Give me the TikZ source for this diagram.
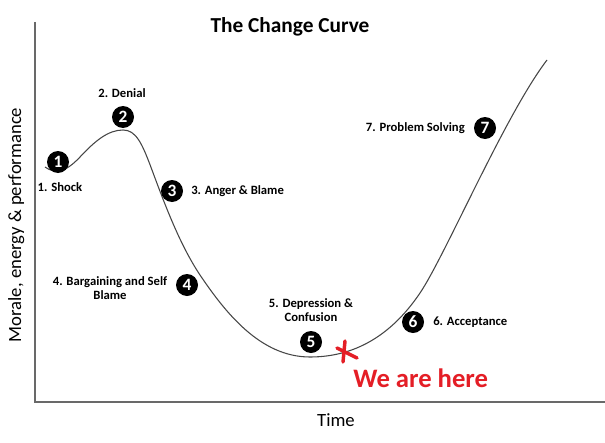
\documentclass[tikz,border=0pt]{standalone}
\usepackage{fontspec}
\setmainfont{Carlito}
\definecolor{herered}{RGB}{228,30,38}
\definecolor{axisgray}{RGB}{105,105,105}
\definecolor{curvegray}{RGB}{70,70,70}

\begin{document}
\begin{tikzpicture}[x=.75pt,y=-.75pt,
  stage/.style={circle,fill=black,text=white,inner sep=0pt,minimum size=16.5pt,font=\bfseries\fontsize{13}{13}\selectfont},
  stagelabel/.style={inner sep=0pt,font=\bfseries\fontsize{9.5}{10.5}\selectfont,align=center},
  axislabel/.style={inner sep=0pt,font=\fontsize{14}{16}\selectfont}]
\path[use as bounding box] (0,0) rectangle (605,442);

% title and axes
\node[anchor=base,inner sep=0pt,font=\bfseries\fontsize{16}{19}\selectfont] (title) at (290,33) {The Change Curve};
\draw[axisgray,line width=1.1pt] (35,22)--(35,402)--(605,402);
\node[axislabel,anchor=base] (xlab) at (336,426) {Time};
\node[axislabel,anchor=base,rotate=90] (ylab) at (21,225) {Morale, energy \& performance};

% the curve
\draw[curvegray,line width=.8pt] (45,167) .. controls (55,174) and (65,173) .. (80,157)
  .. controls (95,141) and (108,130) .. (123,130)
  .. controls (136,130) and (142,143) .. (152,170)
  .. controls (165,205) and (180,245) .. (200,275)
  .. controls (225,312) and (260,357) .. (310,357)
  .. controls (360,357) and (395,330) .. (420,293)
  .. controls (445,256) and (505,115) .. (547,60);

% stages
\node[stage] (c1) at (58,162) {1};
\node[stage] (c2) at (123,117) {2};
\node[stage] (c3) at (172,191) {3};
\node[stage] (c4) at (187,285) {4};
\node[stage] (c5) at (311,342) {5};
\node[stage] (c6) at (413,322) {6};
\node[stage] (c7) at (485,128) {7};

\node[stagelabel] (l1) at (60,187) {1. Shock};
\node[stagelabel] (l2) at (122,93) {2. Denial};
\node[stagelabel,anchor=west] (l3) at (191,191) {3. Anger \& Blame};
\node[stagelabel] (l4) at (110,288) {4. Bargaining and Self\\Blame};
\node[stagelabel] (l5) at (311,310) {5. Depression \&\\Confusion};
\node[stagelabel,anchor=west] (l6) at (433,322) {6. Acceptance};
\node[stagelabel,anchor=east] (l7) at (465,128) {7. Problem Solving};

% we are here
\draw[herered,line width=2.6pt,line cap=round] (345,341)--(343,362) (337,348)--(357,358);
\node[anchor=base west,inner sep=0pt,text=herered,font=\bfseries\fontsize{20}{22}\selectfont] (here) at (353,387) {We are here};
\end{tikzpicture}
\end{document}
